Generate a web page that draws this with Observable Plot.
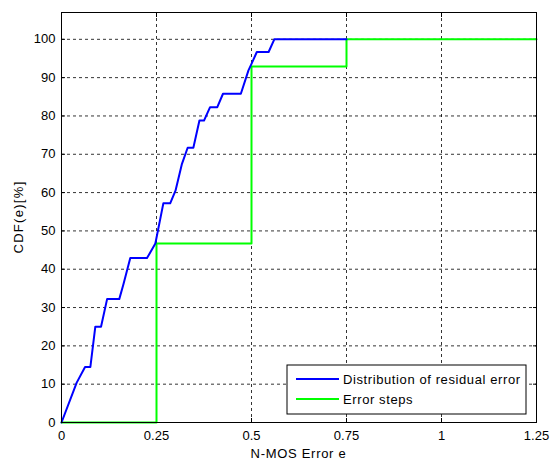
<!DOCTYPE html>
<html>
<head>
<meta charset="utf-8">
<script src="https://cdn.jsdelivr.net/npm/d3@7"></script>
<script src="https://cdn.jsdelivr.net/npm/@observablehq/plot@0.6"></script>
<style>
  html, body { margin: 0; padding: 0; background: white; }
  #chart { width: 552px; height: 461px; }
</style>
</head>
<body>
<div id="chart"></div>
<script>
// ---- data ----
const xTicks = [0, 0.25, 0.5, 0.75, 1, 1.25];
const yTicks = [0, 10, 20, 30, 40, 50, 60, 70, 80, 90, 100];

const residualX = [0, 0.04, 0.062, 0.076, 0.089, 0.104, 0.12, 0.152, 0.163, 0.181, 0.225, 0.247, 0.268, 0.286, 0.3, 0.317, 0.332, 0.347, 0.363, 0.375, 0.391, 0.41, 0.425, 0.472, 0.492, 0.5, 0.514, 0.545, 0.56, 0.75];
const residualY = [0, 10.4, 14.5, 14.5, 25, 25, 32.2, 32.2, 36.1, 42.9, 42.9, 46.7, 57.2, 57.2, 60.5, 67.5, 71.7, 71.7, 78.8, 78.8, 82.3, 82.3, 85.8, 85.8, 91.9, 93.6, 96.7, 96.7, 100, 100];

// Error steps
const stepX = [0, 0.25, 0.5, 0.75, 1.25];
const stepY = [0, 46.7, 92.9, 100, 100];

const seriesNames = ["Distribution of residual error", "Error steps"];
const seriesColors = ["#0000ff", "#00ff00"];
const xLabel = "N-MOS Error e";
const yLabel = "CDF(e)[%]";

const residual = residualX.map((x, i) => ({x, y: residualY[i]}));
const steps = stepX.map((x, i) => ({x, y: stepY[i]}));

const W = 552, H = 461;
const M = {left: 61, right: 16, top: 12, bottom: 39};
const font = "'Liberation Sans', Arial, Helvetica, sans-serif";
const gridStyle = {stroke: "black", strokeOpacity: 1, strokeDasharray: "3,3", strokeWidth: 0.8};

const chart = Plot.plot({
  width: W, height: H,
  marginLeft: M.left, marginRight: M.right, marginTop: M.top, marginBottom: M.bottom,
  style: {fontFamily: font, fontSize: "13px", background: "white", color: "black", overflow: "visible"},
  x: {domain: [0, 1.25]},
  y: {domain: [0, 107]},
  marks: [
    Plot.gridX(xTicks, gridStyle),
    Plot.gridY(yTicks, gridStyle),
    Plot.axisX(xTicks, {anchor: "bottom", tickSize: 0, tickPadding: 8, label: null, tickFormat: d => String(d)}),
    Plot.axisY(yTicks, {anchor: "left", tickSize: 0, tickPadding: 6, label: null}),
    Plot.axisX(xTicks, {anchor: "bottom", tickSize: -4, tickFormat: () => "", label: null}),
    Plot.axisX(xTicks, {anchor: "top", tickSize: -4, tickFormat: () => "", label: null}),
    Plot.axisY(yTicks, {anchor: "left", tickSize: -4, tickFormat: () => "", label: null}),
    Plot.axisY(yTicks, {anchor: "right", tickSize: -4, tickFormat: () => "", label: null}),
    Plot.line(steps, {x: "x", y: "y", curve: "step-after", stroke: seriesColors[1], strokeWidth: 2}),
    Plot.line(residual, {x: "x", y: "y", stroke: seriesColors[0], strokeWidth: 2}),
    Plot.frame({stroke: "black", strokeWidth: 1})
  ]
});

document.getElementById("chart").appendChild(chart);

const svg = d3.select(chart);
// axis titles
svg.append("text")
  .attr("x", M.left + (W - M.left - M.right) / 2)
  .attr("y", 458)
  .attr("text-anchor", "middle")
  .style("font-family", font).style("font-size", "13px").style("letter-spacing", "0.7px").attr("fill", "black")
  .text(xLabel);
svg.append("text")
  .attr("transform", `translate(23,${M.top + (H - M.top - M.bottom) / 2}) rotate(-90)`)
  .attr("text-anchor", "middle")
  .style("font-family", font).style("font-size", "13px").style("letter-spacing", "1.3px").attr("fill", "black")
  .text(yLabel);

// legend
const lg = svg.append("g").attr("transform", "translate(287,365)");
lg.append("rect").attr("width", 239).attr("height", 49)
  .attr("fill", "white").attr("stroke", "black").attr("stroke-width", 1);
seriesNames.forEach((name, i) => {
  const yy = 14 + i * 20;
  lg.append("line").attr("x1", 9).attr("x2", 52).attr("y1", yy).attr("y2", yy)
    .attr("stroke", seriesColors[i]).attr("stroke-width", 2);
  lg.append("text").attr("x", 56).attr("y", yy).attr("dy", "0.35em")
    .attr("text-anchor", "start")
    .style("font-family", font).style("font-size", "13px").style("letter-spacing", "0.6px").attr("fill", "black")
    .text(name);
});
</script>
</body>
</html>
